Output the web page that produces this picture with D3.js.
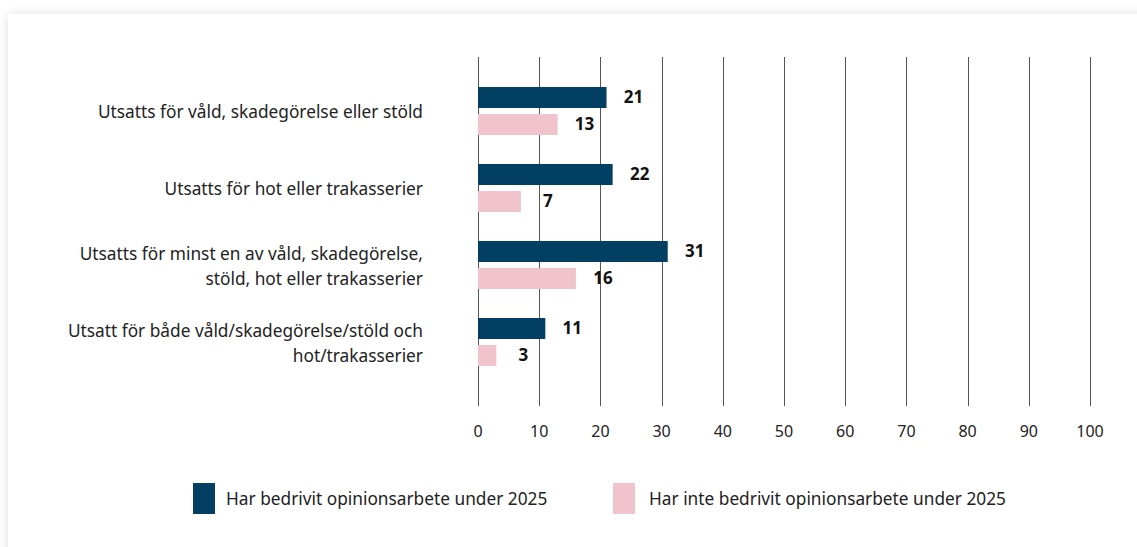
<!DOCTYPE html>
<html>
<head>
<meta charset="utf-8">
<script src="https://cdn.jsdelivr.net/npm/d3@7"></script>
<style>
    body { margin: 0; background: #fff; overflow: hidden; }
    #card {
        position: absolute; left: 8px; top: 14px; width: 1160px; height: 560px;
        background: #fff; box-shadow: 0 0 10px rgba(0, 0, 0, 0.13);
    }
    svg { position: absolute; left: 0; top: 0; font-family: "Noto Sans", sans-serif; }
</style>
</head>
<body>
<div id="card"></div>
<svg id="chart" width="1137" height="547"></svg>
<script>
const categories = [
    ["Utsatts för våld, skadegörelse eller stöld"],
    ["Utsatts för hot eller trakasserier"],
    ["Utsatts för minst en av våld, skadegörelse,", "stöld, hot eller trakasserier"],
    ["Utsatt för både våld/skadegörelse/stöld och", "hot/trakasserier"],
];
const seriesNames = [
    "Har bedrivit opinionsarbete under 2025",
    "Har inte bedrivit opinionsarbete under 2025",
];
const seriesColors = ["#023f63", "#f0c3cd"];
const withWork = [21, 22, 31, 11];
const withoutWork = [13, 7, 16, 3];
const xTicks = [0, 10, 20, 30, 40, 50, 60, 70, 80, 90, 100];

const svg = d3.select("#chart");
const x = d3.scaleLinear().domain([0, 100]).range([478, 1090]);
const y = d3
    .scaleBand()
    .domain(categories.map((c, i) => i))
    .range([72.5, 380.5]);
const yInner = d3
    .scaleBand()
    .domain([0, 1])
    .range([14.5, 62.5])
    .paddingInner(0.222);

// grid lines
svg.append("g")
    .selectAll("line")
    .data(xTicks)
    .join("line")
    .attr("x1", (d) => Math.round(x(d)) + 0.5)
    .attr("x2", (d) => Math.round(x(d)) + 0.5)
    .attr("y1", 57)
    .attr("y2", 406)
    .attr("stroke", "#555")
    .attr("stroke-width", 1);

// axis labels
svg.append("g")
    .selectAll("text")
    .data(xTicks)
    .join("text")
    .attr("x", (d) => x(d))
    .attr("y", 437)
    .attr("text-anchor", "middle")
    .attr("font-size", 16)
    .attr("fill", "#222")
    .text((d) => d);

// category labels
const catLabels = svg.append("g")
    .selectAll("text")
    .data(categories)
    .join("text")
    .attr("text-anchor", "end")
    .attr("font-size", 17.3)
    .attr("fill", "#222")
    .attr("transform", (d, i) => `translate(423,${y(i) + y.bandwidth() / 2 + 1})`);
catLabels.each(function (lines) {
    const t = d3.select(this);
    const off = -(lines.length - 1) * 12.5;
    lines.forEach((line, j) => {
        t.append("tspan")
            .attr("x", 0)
            .attr("y", off + j * 25)
            .attr("dy", "0.35em")
            .text(line);
    });
});

// bars
const allSeries = [withWork, withoutWork];
allSeries.forEach((values, s) => {
    const g = svg.append("g");
    g.selectAll("rect")
        .data(values)
        .join("rect")
        .attr("x", x(0))
        .attr("y", (d, i) => y(i) + yInner(s))
        .attr("width", (d) => x(d) - x(0))
        .attr("height", yInner.bandwidth())
        .attr("fill", seriesColors[s]);
    g.selectAll("text")
        .data(values)
        .join("text")
        .attr("x", (d) => x(d) + 27)
        .attr("y", (d, i) => y(i) + yInner(s) + yInner.bandwidth() / 2)
        .attr("dy", "0.35em")
        .attr("text-anchor", "middle")
        .attr("font-size", 17)
        .attr("font-weight", "bold")
        .attr("fill", "#111")
        .text((d) => d);
});

// legend
const legendX = [193, 613];
const legend = svg.append("g")
    .selectAll("g")
    .data(seriesNames)
    .join("g")
    .attr("transform", (d, i) => `translate(${legendX[i]},483)`);
legend.append("rect")
    .attr("width", 22)
    .attr("height", 31)
    .attr("fill", (d, i) => seriesColors[i]);
legend.append("text")
    .attr("x", (d, i) => (i === 0 ? 33 : 36))
    .attr("y", 16)
    .attr("dy", "0.35em")
    .attr("font-size", 17.3)
    .attr("fill", "#222")
    .text((d) => d);
</script>
</body>
</html>
